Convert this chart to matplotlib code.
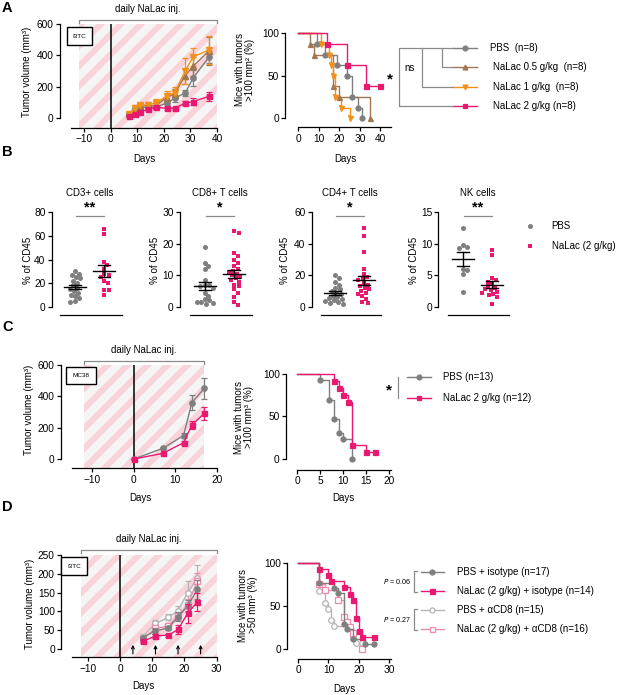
import numpy as np
import matplotlib
matplotlib.use("Agg")
import matplotlib.pyplot as plt
import matplotlib.transforms as mtransforms
from matplotlib.lines import Line2D
from matplotlib.patches import Rectangle

# ---------------- data ----------------
# Panel A: tumour growth, I3TC
a_days = [7, 9, 11, 14, 17, 21, 24, 28, 31, 37]
a_pbs_mean = [25, 55, 65, 70, 70, 95, 125, 160, 255, 390]
a_pbs_sem = [5, 10, 10, 10, 12, 15, 20, 20, 50, 40]
a_n05_mean = [25, 60, 75, 80, 80, 130, 155, 270, 330, 430]
a_n05_sem = [8, 12, 12, 15, 20, 25, 30, 50, 60, 90]
a_n1_mean = [25, 65, 80, 85, 95, 140, 160, 300, 390, 435]
a_n1_sem = [10, 15, 15, 20, 25, 30, 35, 80, 60, 90]
a_n2_mean = [15, 28, 40, 55, 68, 62, 62, 95, 105, 138]
a_n2_sem = [5, 5, 8, 8, 10, 10, 10, 15, 20, 30]
# Panel A: survival (% mice with tumours < threshold)
sa_pbs_days = [0, 9, 13, 19, 24, 26, 29, 31]
sa_pbs_pct = [100, 87.5, 75, 62.5, 50, 25, 12.5, 0]
sa_n05_days = [0, 6, 8, 17, 20, 35]
sa_n05_pct = [100, 87.5, 75, 37.5, 25, 0]
sa_n1_days = [0, 11, 15, 16, 17, 18, 21, 25]
sa_n1_pct = [100, 87.5, 75, 62.5, 50, 25, 12.5, 0]
sa_n2_days = [0, 14, 24, 33, 40]
sa_n2_pct = [100, 87.5, 62.5, 37.5, 37.5]
a_legend = ["PBS  (n=8)", "NaLac 0.5 g/kg  (n=8)", "NaLac 1 g/kg  (n=8)", "NaLac 2 g/kg (n=8)"]

# Panel B: immune cells (% of CD45)
b_titles = ["CD3+ cells", "CD8+ T cells", "CD4+ T cells", "NK cells"]
b_stars = ["**", "*", "*", "**"]
b_ymax = [80, 30, 60, 15]
b_yticks = [[0, 20, 40, 60, 80], [0, 10, 20, 30], [0, 20, 40, 60], [0, 5, 10, 15]]
cd3_pbs = [30, 28, 27, 25, 24, 22, 20, 18, 16, 15, 13, 12, 10, 9, 7, 5, 4]
cd3_nal = [66, 62, 38, 35, 32, 28, 27, 25, 22, 20, 14, 14, 10]
cd8_pbs = [19, 14, 13, 12, 8.5, 7, 7, 6.5, 6, 4.5, 3.5, 2.5, 2, 1.5, 1.5, 1.2, 1.0]
cd8_nal = [24, 23.5, 17, 16, 15, 14, 13, 12, 11.5, 11, 10.5, 10, 9.5, 9, 8.5, 8, 7,
           6.5, 5.5, 4.5, 3, 1.5, 0.5]
cd4_pbs = [20, 18.5, 16, 14, 12, 11, 10, 9, 8, 7, 6, 5.5, 5, 4, 3.5, 3, 2.5, 2]
cd4_nal = [50, 45, 35, 24, 21, 19, 18, 17, 15, 14, 13, 12, 11, 10, 9, 8, 7, 5, 3, 2.5]
nk_pbs = [12.5, 9.8, 9.5, 9.3, 6.0, 5.8, 5.2, 2.4]
nk_nal = [9.0, 8.2, 4.5, 4.3, 4.0, 3.6, 3.3, 3.0, 2.8, 2.6, 2.4, 2.2, 2.0, 1.8, 1.5, 0.4]
b_legend = ["PBS", "NaLac (2 g/kg)"]

# Panel C: MC38
c_days = [0, 7, 12, 14, 17]
c_pbs_mean = [0, 68, 150, 360, 451]
c_pbs_sem = [0, 6, 15, 50, 68]
c_nal_mean = [0, 36, 104, 217, 291]
c_nal_sem = [0, 5, 12, 25, 40]
sc_pbs_days = [0, 5, 7, 8, 9, 10, 12]
sc_pbs_pct = [100, 92.3, 69.2, 46.2, 30.8, 23.1, 0]
sc_nal_days = [0, 8, 9, 10, 11, 12, 15, 17]
sc_nal_pct = [100, 91.7, 83.3, 75, 66.7, 16.7, 8.3, 8.3]
c_legend = ["PBS (n=13)", "NaLac 2 g/kg (n=12)"]

# Panel D: CD8 depletion
d_days = [7, 11, 15, 18, 21, 24]
d_pbs_iso = [30, 48, 56, 86, 114, 159]
d_pbs_iso_sem = [5, 8, 6, 12, 15, 25]
d_nal_iso = [20, 35, 37, 52, 95, 125]
d_nal_iso_sem = [4, 5, 4, 12, 25, 25]
d_pbs_cd8 = [33, 68, 84, 102, 150, 188]
d_pbs_cd8_sem = [6, 10, 8, 12, 30, 35]
d_nal_cd8 = [27, 55, 60, 88, 117, 182]
d_nal_cd8_sem = [5, 8, 8, 12, 15, 20]
d_antibody_days = [4, 11, 18, 25]
sd_pbs_iso_days = [0, 7, 12, 13, 15, 16, 18, 22, 25]
sd_pbs_iso_pct = [100, 76.5, 70.6, 64.7, 29.4, 23.5, 11.8, 5.9, 5.9]
sd_nal_iso_days = [0, 7, 10, 11, 15, 17, 18, 19, 20, 21, 25]
sd_nal_iso_pct = [100, 92.9, 85.7, 78.6, 71.4, 64.3, 57.1, 35.7, 21.4, 14.3, 14.3]
sd_pbs_cd8_days = [0, 7, 9, 10, 11, 12, 18, 19, 21]
sd_pbs_cd8_pct = [100, 66.7, 53.3, 46.7, 33.3, 26.7, 13.3, 6.7, 6.7]
sd_nal_cd8_days = [0, 7, 9, 13, 15, 16, 17, 18, 21]
sd_nal_cd8_pct = [100, 75, 68.75, 56.25, 37.5, 31.25, 25, 18.75, 0]
d_legend = ["PBS + isotype (n=17)", "NaLac (2 g/kg) + isotype (n=14)",
            "PBS + αCD8 (n=15)", "NaLac (2 g/kg) + αCD8 (n=16)"]

# ---------------- style ----------------
GREY = "#7f7f7f"
PINK = "#e8196f"
ORANGE = "#f2901a"
BROWN = "#a07750"
LGREY = "#b5b5b5"
LPINK = "#f08ab0"
BRK = "#8a8a8a"
STRIPE = "#f9d3da"
STRIPE_BG = "#f6f5f5"

plt.rcParams["font.family"] = ["Liberation Sans", "DejaVu Sans"]
FS = 7.0
TFS = 7.3

W, H = 617, 695
fig = plt.figure(figsize=(W / 100, H / 100), dpi=100)
PIX = mtransforms.Affine2D().scale(1.0 / W, -1.0 / H).translate(0, 1) + fig.transFigure
IDT = mtransforms.IdentityTransform()


def add_ax(l, t, r, b):
    return fig.add_axes([l / W, 1 - b / H, (r - l) / W, (b - t) / H])


def ptext(x, y, s, **kw):
    kw.setdefault("ha", "center")
    kw.setdefault("va", "center")
    kw.setdefault("fontsize", FS)
    return fig.text(x, y, s, transform=PIX, **kw)


def pline(xs, ys, **kw):
    fig.add_artist(Line2D(xs, ys, transform=PIX, **kw))


def style_axes(ax, off_px, ybounds):
    ax.spines["top"].set_visible(False)
    ax.spines["right"].set_visible(False)
    ax.spines["left"].set_position(("outward", off_px * 0.72))
    ax.spines["left"].set_bounds(*ybounds)
    for s in ("left", "bottom"):
        ax.spines[s].set_linewidth(0.9)
    ax.tick_params(direction="out", length=3, width=0.9, labelsize=TFS, pad=1.5)
    ax.patch.set_visible(False)


def set_labels(ax, ylab, ylab_xy, xlab=None, xlab_xy=None):
    ax.set_ylabel(ylab, fontsize=FS, linespacing=1.1)
    ax.yaxis.set_label_coords(ylab_xy[0] / W, 1 - ylab_xy[1] / H, transform=fig.transFigure)
    ax.yaxis.label.set_va("center")
    if xlab:
        ax.set_xlabel(xlab, fontsize=FS)
        ax.xaxis.set_label_coords(xlab_xy[0] / W, 1 - xlab_xy[1] / H, transform=fig.transFigure)
        ax.xaxis.label.set_va("center")


def striped_region(ax, x0, x1, y0, y1, period=20.0, lw=4.4):
    rect = Rectangle((x0, y0), x1 - x0, y1 - y0, facecolor=STRIPE_BG, lw=0, zorder=0)
    ax.add_patch(rect)
    (px0, py0) = ax.transData.transform((x0, y0))
    (px1, py1) = ax.transData.transform((x1, y1))
    cs = np.arange(py0 - px1 - period, py1 - px0 + period, period)
    for c in cs:
        xs = np.array([px0 - 20, px1 + 20])
        ln = Line2D(xs, xs + c, transform=IDT, color=STRIPE, lw=lw, zorder=0.5,
                    solid_capstyle="butt")
        ax.add_line(ln)
        ln.set_clip_path(rect)


def tumor_axes(l, t, r, b, yax_x, y0, xlim, ymax, yticks, xticks, hatch, cell, cell_xy, brk_y, txt_y):
    ax = add_ax(l, t, r, b)
    ymin = -(b - y0) / (y0 - t) * ymax
    ax.set_xlim(*xlim)
    ax.set_ylim(ymin, ymax)
    style_axes(ax, l - yax_x, (0, ymax))
    ax.set_yticks(yticks)
    ax.set_xticks(xticks)
    striped_region(ax, hatch[0], hatch[1], ymin, ymax)
    ax.plot([0, 0], [ymin, ymax], color="black", lw=1.1, zorder=1)
    tr = mtransforms.blended_transform_factory(ax.transData, PIX)
    ax.plot([hatch[0], hatch[0], hatch[1], hatch[1]], [brk_y + 3, brk_y, brk_y, brk_y + 3],
            transform=tr, color=BRK, lw=0.9, clip_on=False)
    ax.text((hatch[0] + hatch[1]) / 2, txt_y, "daily NaLac inj.", transform=tr,
            ha="center", va="center", fontsize=FS)
    ptext(cell_xy[0], cell_xy[1], cell, fontsize=4.6,
          bbox=dict(boxstyle="square,pad=0.95", fc="white", ec="black", lw=1.0))
    return ax


def eb(ax, x, y, e, color, marker, mfc=None, ms=4.0, z=3):
    ax.errorbar(x, y, yerr=e, color=color, marker=marker, ms=ms, mfc=mfc or color,
                mec=color, lw=1.0, elinewidth=0.9, capsize=2.2, capthick=0.9,
                zorder=z, clip_on=False)


def surv_axes(l, t, r, b, yax_x, y0, xlim, xticks):
    ax = add_ax(l, t, r, b)
    ymin = -(b - y0) / (y0 - t) * 100
    ax.set_xlim(*xlim)
    ax.set_ylim(ymin, 100)
    style_axes(ax, l - yax_x, (0, 100))
    ax.set_yticks([0, 50, 100])
    ax.set_xticks(xticks)
    return ax


def surv(ax, days, pct, color, marker, mfc=None, ms=4.0, z=3):
    ax.step(days, pct, where="post", color=color, lw=1.0, zorder=z, clip_on=False)
    ax.plot(days[1:], pct[1:], ls="none", marker=marker, ms=ms, mfc=mfc or color,
            mec=color, mew=0.9, zorder=z + 0.5, clip_on=False)


def legend_entry(x0, x1, y, color, marker, mfc=None, ms=3.5):
    pline([x0, x1], [y, y], color=color, lw=1.0)
    pline([(x0 + x1) / 2], [y], color=color, marker=marker, ms=ms, mfc=mfc or color,
          mec=color, mew=0.9, ls="none")


# ---------------- panel letters ----------------
for letter, y in zip("ABCD", [8, 152, 327, 507]):
    ptext(2, y, letter, fontsize=10.5, fontweight="bold", ha="left")

# ---------------- A left ----------------
ax = tumor_axes(71, 24, 217, 128, 60, 118, (-15, 40), 600, [0, 200, 400, 600],
                [-10, 0, 10, 20, 30, 40], (-12, 40), "I3TC", (79.5, 36), 19.5, 8.5)
eb(ax, a_days, a_pbs_mean, a_pbs_sem, GREY, "o", ms=3.8)
eb(ax, a_days, a_n05_mean, a_n05_sem, BROWN, "^", ms=3.8)
eb(ax, a_days, a_n1_mean, a_n1_sem, ORANGE, "v", ms=3.8)
eb(ax, a_days, a_n2_mean, a_n2_sem, PINK, "s", ms=3.6, z=4)
set_labels(ax, "Tumor volume (mm³)", (27, 72), "Days", (144, 159))

# ---------------- A right ----------------
ax = surv_axes(298, 33.3, 390.7, 127.3, 285, 118.3, (0, 45), [0, 10, 20, 30, 40])
surv(ax, sa_pbs_days, sa_pbs_pct, GREY, "o", ms=3.6)
surv(ax, sa_n05_days, sa_n05_pct, BROWN, "^", ms=3.6)
surv(ax, sa_n1_days, sa_n1_pct, ORANGE, "v", ms=3.6)
surv(ax, sa_n2_days, sa_n2_pct, PINK, "s", ms=3.6, z=4)
set_labels(ax, "Mice with tumors\n>100 mm² (%)", (245, 70), "Days", (345, 159))
rows = [48.3, 67.3, 86.7, 106]
for y, c, m, lab, tx in zip(rows, [GREY, BROWN, ORANGE, PINK], ["o", "^", "v", "s"],
                            a_legend, [490, 492.7, 492.7, 492.7]):
    legend_entry(453, 477, y, c, m)
    ptext(tx, y, lab, ha="left")
pline([453, 399.3, 399.3, 453], [rows[0], rows[0], rows[3], rows[3]], color=BRK, lw=0.9)
pline([421.7, 421.7, 453], [rows[0], rows[2], rows[2]], color=BRK, lw=0.9)
pline([441.7, 441.7, 453], [rows[0], rows[1], rows[1]], color=BRK, lw=0.9)
ptext(410, 68, "ns")
ptext(389.5, 79.5, "*", fontsize=11, fontweight="bold")

# ---------------- B ----------------
b_pbs = [cd3_pbs, cd8_pbs, cd4_pbs, nk_pbs]
b_nal = [cd3_nal, cd8_nal, cd4_nal, nk_nal]
b_l = [60, 190, 320.7, 448.3]
b_r = [121.7, 251.7, 381, 509.3]
b_yax = [51.7, 180, 311.7, 438.3]
b_ylab_x = [28, 155, 285, 414]
XL = (-0.5, 1.6)


def swarm_offsets(vals, ypu, xpu, d=4.4):
    vals = np.asarray(vals, float)
    order = np.argsort(-vals)
    pts = []
    offs = np.zeros(len(vals))
    for i in order:
        y = vals[i] * ypu
        best = None
        for k in range(0, 80):
            for cand in ([0.0] if k == 0 else [k * 0.5, -k * 0.5]):
                if all((cand - px) ** 2 + (y - py) ** 2 >= d * d for px, py in pts):
                    best = cand
                    break
            if best is not None:
                break
        pts.append((best, y))
        offs[i] = best / xpu
    return offs


for k in range(4):
    t, b, y0 = 212.3, 315, 306.7
    ax = add_ax(b_l[k], t, b_r[k], b)
    ymax = b_ymax[k]
    ymin = -(b - y0) / (y0 - t) * ymax
    ax.set_xlim(*XL)
    ax.set_ylim(ymin, ymax)
    style_axes(ax, b_l[k] - b_yax[k], (0, ymax))
    ax.set_yticks(b_yticks[k])
    ax.set_xticks([])
    ypu = (y0 - t) / ymax
    xpu = (b_r[k] - b_l[k]) / (XL[1] - XL[0])
    for gx, vals, col, mk, ms in [(0, b_pbs[k], GREY, "o", 3.6), (1, b_nal[k], PINK, "s", 3.4)]:
        v = np.asarray(vals, float)
        off = swarm_offsets(v, ypu, xpu)
        ax.plot(gx + off, v, ls="none", marker=mk, ms=ms, color=col, mew=0, zorder=2,
                clip_on=False)
        m = v.mean()
        se = v.std(ddof=1) / np.sqrt(len(v))
        ax.plot([gx - 0.38, gx + 0.38], [m, m], color="black", lw=1.0, zorder=3)
        ax.plot([gx - 0.2, gx + 0.2], [m + se, m + se], color="black", lw=1.0, zorder=3)
        ax.plot([gx - 0.2, gx + 0.2], [m - se, m - se], color="black", lw=1.0, zorder=3)
        ax.plot([gx, gx], [m - se, m + se], color="black", lw=1.0, zorder=3)
    tr = mtransforms.blended_transform_factory(ax.transData, PIX)
    ax.plot([0.05, 1.0], [216, 216], transform=tr, color=BRK, lw=0.9, clip_on=False)
    ax.text(0.52, 207, b_stars[k], transform=tr, ha="center", va="center",
            fontsize=10.5, fontweight="bold")
    ax.text(0.5, 192.7, b_titles[k], transform=tr, ha="center", va="center", fontsize=FS)
    set_labels(ax, "% of CD45", (b_ylab_x[k], 260))

pline([530], [226], marker="o", ms=3.6, color=GREY, mew=0, ls="none")
pline([530], [246], marker="s", ms=3.4, color=PINK, mew=0, ls="none")
ptext(551.7, 226, b_legend[0], ha="left")
ptext(551.7, 246, b_legend[1], ha="left")

# ---------------- C left ----------------
ax = tumor_axes(71.7, 365, 216.7, 468.3, 60.7, 459, (-15, 20), 600, [0, 200, 400, 600],
                [-10, 0, 10, 20], (-12, 17), "MC38", (81, 375.5), 360.7, 350)
eb(ax, c_days, c_pbs_mean, c_pbs_sem, GREY, "o", ms=3.8)
eb(ax, c_days, c_nal_mean, c_nal_sem, PINK, "s", ms=3.6, z=4)
set_labels(ax, "Tumor volume (mm³)", (29, 410), "Days", (140, 498))

# ---------------- C right ----------------
ax = surv_axes(297, 373.5, 390.7, 470, 286, 459, (0, 20.3), [0, 5, 10, 15, 20])
surv(ax, sc_pbs_days, sc_pbs_pct, GREY, "o", ms=3.6)
surv(ax, sc_nal_days, sc_nal_pct, PINK, "s", ms=3.6, z=4)
set_labels(ax, "Mice with tumors\n>100 mm³ (%)", (244, 417), "Days", (343, 498))
legend_entry(407, 430.7, 376.7, GREY, "o")
legend_entry(407, 430.7, 397.7, PINK, "s")
ptext(443.3, 376.7, c_legend[0], ha="left")
ptext(443.3, 397.7, c_legend[1], ha="left")
pline([398.3, 398.3], [376.7, 398.3], color=BRK, lw=0.9)
ptext(388.5, 390, "*", fontsize=11, fontweight="bold")

# ---------------- D left ----------------
ax = tumor_axes(71.7, 555, 216.7, 657.3, 61, 649, (-15, 30), 250,
                [0, 50, 100, 150, 200, 250], [-10, 0, 10, 20, 30], (-12, 30), "I3TC",
                (74, 566), 550, 539.3)
eb(ax, d_days, d_pbs_cd8, d_pbs_cd8_sem, LGREY, "o", mfc="white", ms=4.0)
eb(ax, d_days, d_nal_cd8, d_nal_cd8_sem, LPINK, "s", mfc="white", ms=3.8)
eb(ax, d_days, d_pbs_iso, d_pbs_iso_sem, GREY, "o", ms=3.8, z=4)
eb(ax, d_days, d_nal_iso, d_nal_iso_sem, PINK, "s", ms=3.6, z=5)
for dd in d_antibody_days:
    ax.annotate("", xy=(dd, 11), xytext=(dd, -13),
                arrowprops=dict(arrowstyle="->", lw=0.8, color="black",
                                mutation_scale=5, shrinkA=0, shrinkB=0),
                annotation_clip=False)
set_labels(ax, "Tumor volume (mm³)", (30, 604), "Days", (143, 686))

# ---------------- D right ----------------
ax = surv_axes(298, 562.7, 390.7, 659, 287.3, 649, (0, 30.5), [0, 10, 20, 30])
surv(ax, sd_pbs_cd8_days, sd_pbs_cd8_pct, LGREY, "o", mfc="white", ms=4.0)
surv(ax, sd_nal_cd8_days, sd_nal_cd8_pct, LPINK, "s", mfc="white", ms=3.8)
surv(ax, sd_pbs_iso_days, sd_pbs_iso_pct, GREY, "o", ms=3.6, z=4)
surv(ax, sd_nal_iso_days, sd_nal_iso_pct, PINK, "s", ms=3.6, z=5)
set_labels(ax, "Mice with tumors\n>50 mm³ (%)", (248, 605), "Days", (344, 689))
drows = [571.7, 590.7, 610, 629.3]
for y, c, m, f, lab in zip(drows, [GREY, PINK, LGREY, LPINK], ["o", "s", "o", "s"],
                           [None, None, "white", "white"], d_legend):
    legend_entry(420.7, 444, y, c, m, mfc=f, ms=3.6)
    ptext(456.7, y, lab, ha="left")
for (ya, yb), p in zip([(drows[0], drows[1]), (drows[2], drows[3])], ["0.06", "0.27"]):
    pline([417.3, 414.3, 414.3, 417.3], [ya - 1, ya - 1, yb + 1, yb + 1], color=BRK, lw=0.9)
    ptext(411, (ya + yb) / 2, "$\\it{P}$ = " + p, ha="right", fontsize=5.2)

fig.savefig("out.png", dpi=100)
